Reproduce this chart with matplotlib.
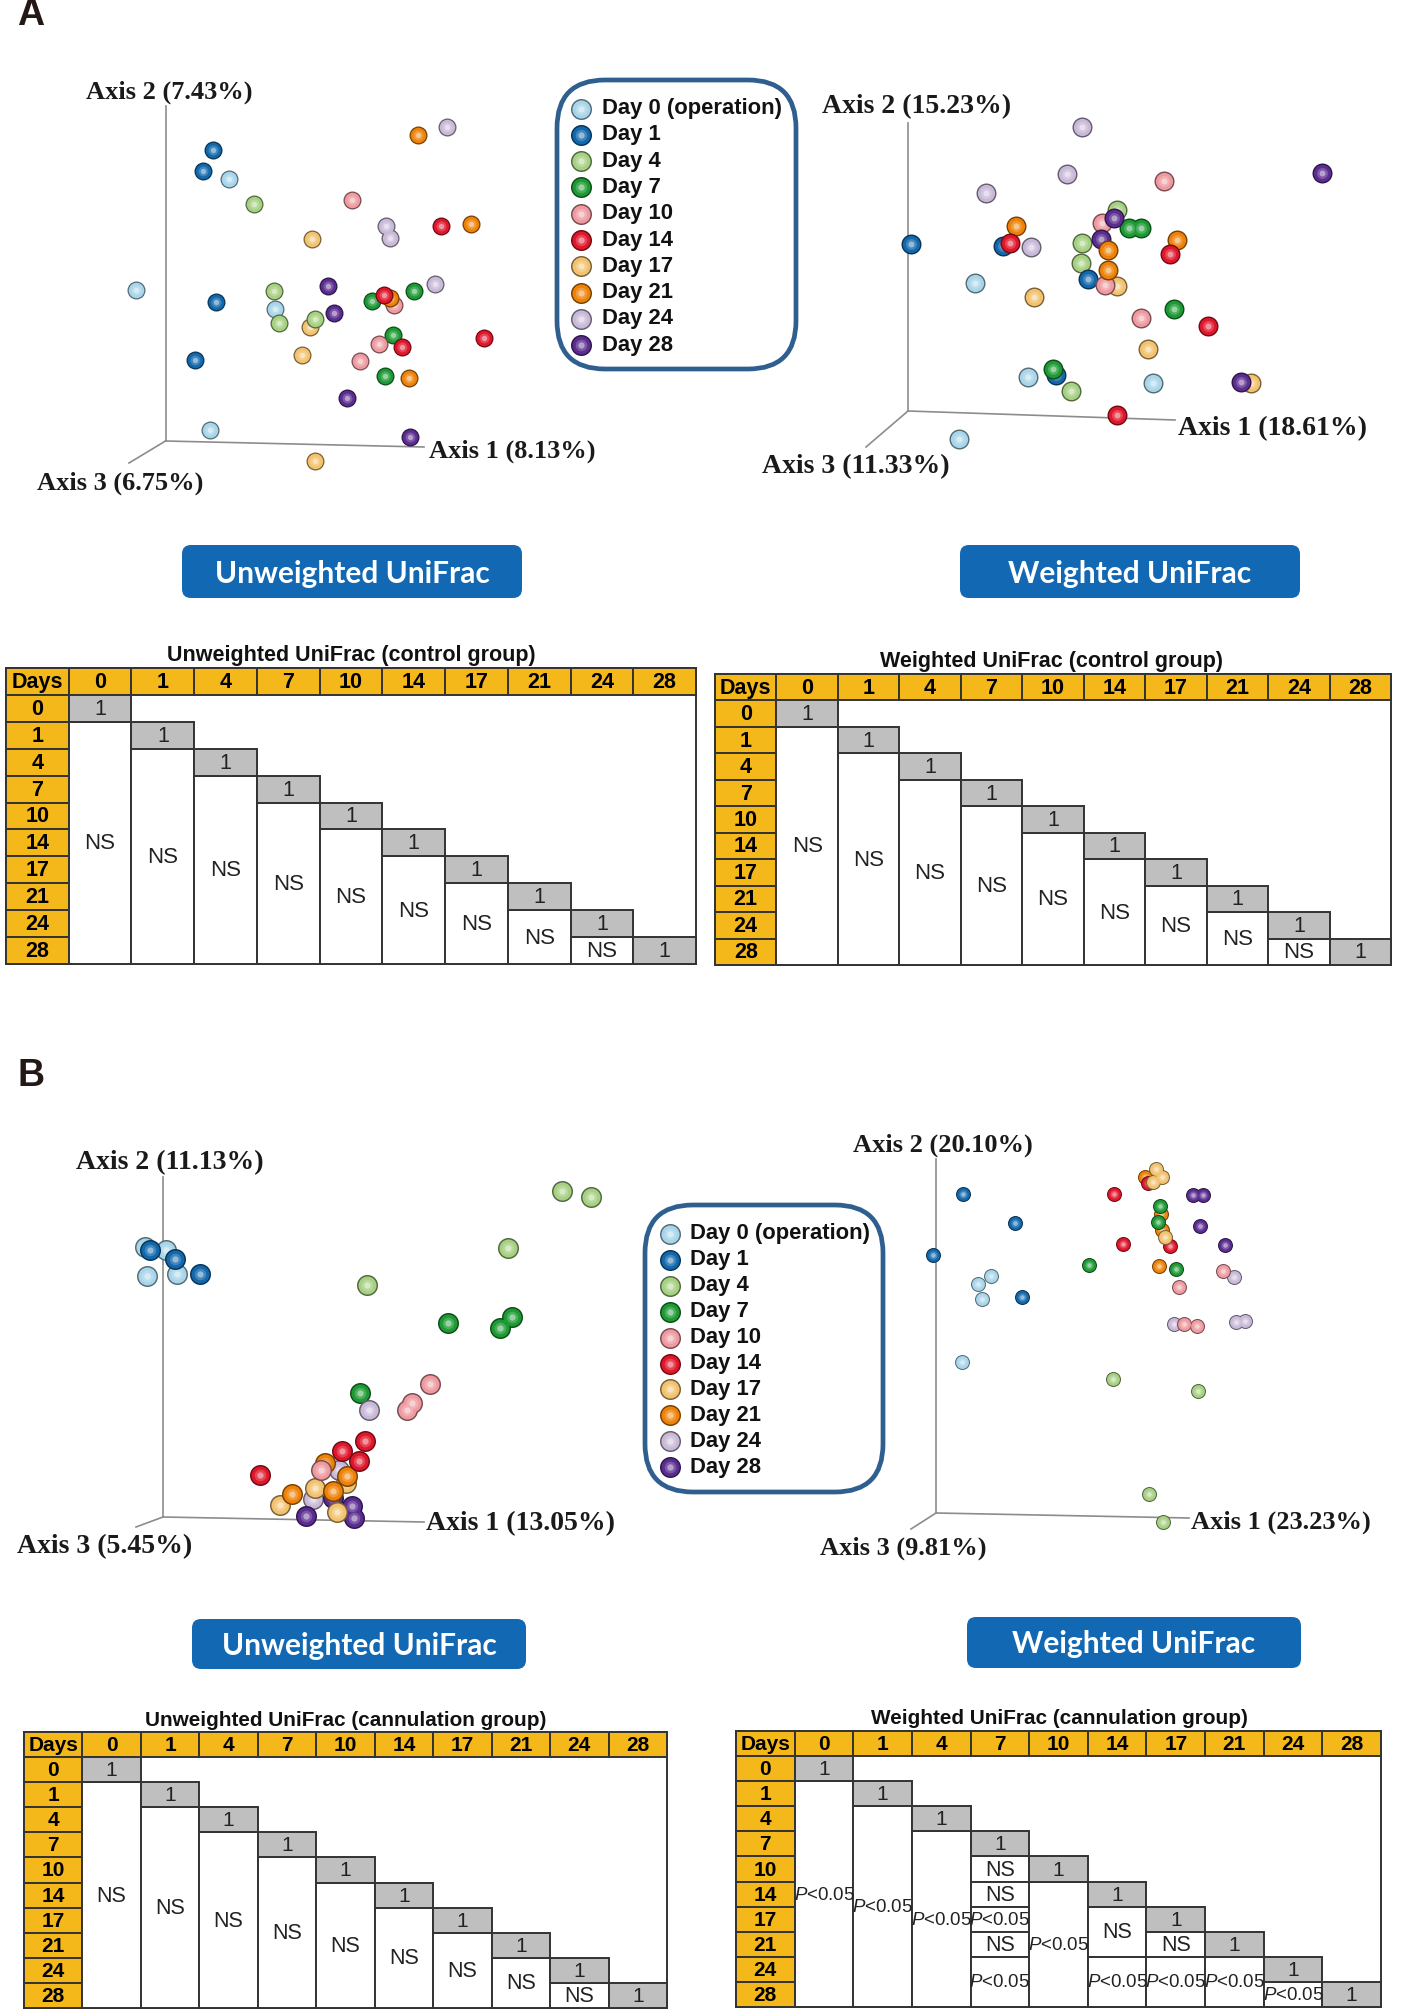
import numpy as np
import matplotlib
matplotlib.use('Agg')
from matplotlib import pyplot as plt
from matplotlib.colors import to_rgb
from matplotlib.patches import FancyBboxPatch, Rectangle

plt.rcParams['mathtext.fontset'] = 'custom'
plt.rcParams['mathtext.it'] = 'Liberation Sans:italic'
plt.rcParams['mathtext.rm'] = 'Liberation Sans'

DAYS = ['0', '1', '4', '7', '10', '14', '17', '21', '24', '28']
LEGEND_NAMES = ['Day 0 (operation)', 'Day 1', 'Day 4', 'Day 7', 'Day 10',
                'Day 14', 'Day 17', 'Day 21', 'Day 24', 'Day 28']
COLORS = ['#a9d5ea', '#1268ab', '#a6d082', '#1e9a35', '#ee9aa0',
          '#e0162b', '#f2c26e', '#ee8208', '#c9b9d8', '#5b2d90']

# point positions, one list per day (x, y in image pixels)
A_UNW = [
    [(136, 290), (229, 179), (275, 309), (210, 430)],
    [(213, 150), (203, 171), (216, 302), (195, 360)],
    [(254, 204), (274, 291), (279, 323), (315, 319)],
    [(372, 301), (414, 291), (393, 335), (385, 376)],
    [(352, 200), (394, 305), (379, 344), (360, 361)],
    [(441, 226), (384, 295), (402, 347), (484, 338)],
    [(312, 239), (310, 327), (302, 355), (315, 461)],
    [(418, 135), (471, 224), (390, 298), (409, 378)],
    [(447, 127), (386, 226), (390, 238), (435, 284)],
    [(328, 286), (334, 313), (347, 398), (410, 437)],
]
A_W = [
    [(975, 283), (1028, 377), (1153, 383), (959, 439)],
    [(911, 244), (1003, 246), (1088, 279), (1056, 375)],
    [(1117, 210), (1082, 243), (1081, 263), (1071, 391)],
    [(1129, 228), (1141, 228), (1174, 309), (1053, 369)],
    [(1164, 181), (1102, 223), (1105, 285), (1141, 318)],
    [(1010, 243), (1170, 254), (1208, 326), (1117, 415)],
    [(1117, 286), (1034, 297), (1148, 349), (1251, 383)],
    [(1016, 226), (1177, 240), (1108, 250), (1108, 270)],
    [(1082, 127), (1067, 174), (986, 193), (1031, 247)],
    [(1322, 173), (1114, 218), (1101, 239), (1241, 382)],
]
B_UNW = [
    [(145, 1247), (166, 1250), (147, 1276), (177, 1274)],
    [(150, 1250), (175, 1259), (200, 1274)],
    [(562, 1191), (591, 1197), (508, 1248), (367, 1285)],
    [(448, 1323), (512, 1317), (500, 1328), (360, 1393)],
    [(430, 1384), (412, 1403), (407, 1410), (321, 1470)],
    [(365, 1441), (342, 1451), (359, 1461), (260, 1475)],
    [(346, 1483), (315, 1488), (280, 1505), (337, 1512)],
    [(325, 1463), (347, 1476), (292, 1494), (333, 1491)],
    [(369, 1410), (339, 1470), (313, 1499)],
    [(352, 1506), (333, 1498), (306, 1516), (354, 1518)],
]
B_W = [
    [(991, 1276), (978, 1284), (982, 1299), (962, 1362)],
    [(963, 1194), (1015, 1223), (933, 1255), (1022, 1297)],
    [(1113, 1379), (1198, 1391), (1149, 1494), (1163, 1522)],
    [(1160, 1206), (1158, 1222), (1089, 1265), (1176, 1269)],
    [(1223, 1271), (1179, 1287), (1184, 1324), (1197, 1326)],
    [(1114, 1194), (1148, 1183), (1123, 1244), (1170, 1246)],
    [(1156, 1169), (1162, 1177), (1153, 1182), (1165, 1237)],
    [(1145, 1177), (1161, 1214), (1162, 1230), (1159, 1266)],
    [(1234, 1277), (1174, 1324), (1236, 1322), (1245, 1321)],
    [(1193, 1195), (1203, 1195), (1200, 1226), (1225, 1245)],
]

# which day is painted over which, back to front
ORDER_A_UNW = [0, 1, 6, 2, 3, 4, 7, 8, 9, 5]
ORDER_A_W = [0, 2, 1, 3, 8, 6, 4, 9, 7, 5]
ORDER_B_UNW = [0, 1, 2, 3, 8, 9, 6, 7, 4, 5]
ORDER_B_W = [0, 1, 2, 8, 7, 3, 4, 5, 6, 9]

AXIS_A_UNW = ['Axis 1 (8.13%)', 'Axis 2 (7.43%)', 'Axis 3 (6.75%)']
AXIS_A_W = ['Axis 1 (18.61%)', 'Axis 2 (15.23%)', 'Axis 3 (11.33%)']
AXIS_B_UNW = ['Axis 1 (13.05%)', 'Axis 2 (11.13%)', 'Axis 3 (5.45%)']
AXIS_B_W = ['Axis 1 (23.23%)', 'Axis 2 (20.10%)', 'Axis 3 (9.81%)']

# table columns below the diagonal: (rows spanned, text)
PV = r'$\mathit{P}$<0.05'
ALL_NS = [[(9 - j, 'NS')] for j in range(9)]
CANNULATION_W = [
    [(9, PV)],
    [(8, PV)],
    [(7, PV)],
    [(1, 'NS'), (1, 'NS'), (1, PV), (1, 'NS'), (2, PV)],
    [(5, PV)],
    [(2, 'NS'), (2, PV)],
    [(1, 'NS'), (2, PV)],
    [(2, PV)],
    [(1, PV)],
]

fig = plt.figure(figsize=(14.05, 20.11), dpi=100)
ax = fig.add_axes([0, 0, 1, 1])
ax.set_xlim(0, 1405)
ax.set_ylim(2011, 0)
ax.axis('off')


def blend(col, other, t):
    c = np.array(to_rgb(col))
    return tuple(c * (1 - t) + np.array(to_rgb(other)) * t)


# fake the shaded balls with stacked discs
def balls(xs, ys, col, d, z):
    layers = [(1.0, blend(col, 'black', 0.5)), (0.86, col),
              (0.55, blend(col, 'white', 0.2)), (0.3, blend(col, 'white', 0.55))]
    for k, (frac, c) in enumerate(layers):
        ax.scatter(xs, ys, s=(d * frac * 0.72) ** 2, color=c, linewidths=0, zorder=z + k * 0.1)


def nuage(groups, d, order):
    for rang, i in enumerate(order):
        pts = np.array(groups[i])
        balls(pts[:, 0], pts[:, 1], COLORS[i], d, 3 + rang)


def repere(origin, ends, labels, pos, size=19):
    for e in ends:
        ax.plot([origin[0], e[0]], [origin[1], e[1]], color='#8c8c8c', lw=1.2, zorder=2)
    for txt, p in zip(labels, pos):
        ax.text(p[0], p[1], txt, family='Liberation Serif', weight='bold', size=size,
                va='center', ha='left', color='#1a1a1a', zorder=20)


def legende(x0, y0, x1, y1, mx, tx, y_first, dy):
    ax.add_patch(FancyBboxPatch((x0, y0), x1 - x0, y1 - y0,
                                boxstyle='round,pad=0,rounding_size=48',
                                fc='white', ec='#2f5f8f', lw=3.4, zorder=1))
    for i, name in enumerate(LEGEND_NAMES):
        y = y_first + i * dy
        balls([mx], [y], COLORS[i], 21, 3)
        ax.text(tx, y, name, family='Liberation Sans', weight='bold', size=15.8,
                va='center', ha='left', color='#111111', zorder=20)


def bouton(x0, y0, x1, y1, txt):
    ax.add_patch(FancyBboxPatch((x0, y0), x1 - x0, y1 - y0,
                                boxstyle='round,pad=0,rounding_size=9',
                                fc='#1268b3', ec='none', zorder=1))
    ax.text((x0 + x1) / 2, (y0 + y1) / 2 + 2, txt, family='Lato', weight='bold', size=21.5,
            va='center', ha='center', color='white', zorder=2)


def tableau(x0, x1, y0, y1, title, ty, tx, colonnes, fs):
    w = (x1 - x0) / 11
    h = (y1 - y0) / 11
    line = dict(ec='#333333', lw=1.4)
    ax.add_patch(Rectangle((x0, y0), x1 - x0, y1 - y0, fc='white', zorder=1, **line))
    # first row and first column
    for k, lab in enumerate(['Days'] + DAYS):
        ax.add_patch(Rectangle((x0 + k * w, y0), w, h, fc='#f4b81a', zorder=2, **line))
        ax.text(x0 + (k + .5) * w, y0 + .5 * h + 1, lab, family='Liberation Sans', weight='bold',
                size=fs + 1, ha='center', va='center', zorder=5)
        if k > 0:
            ax.add_patch(Rectangle((x0, y0 + k * h), w, h, fc='#f4b81a', zorder=2, **line))
            ax.text(x0 + .5 * w, y0 + (k + .5) * h + 1, lab, family='Liberation Sans', weight='bold',
                    size=fs + 1, ha='center', va='center', zorder=5)
    for j in range(10):
        cx = x0 + (j + 1) * w
        ry = y0 + (j + 1) * h
        ax.add_patch(Rectangle((cx, ry), w, h, fc='#bfbfbf', zorder=3, **line))
        ax.text(cx + .5 * w, ry + .5 * h + 1, '1', family='Liberation Sans', size=fs + 1,
                color='#222222', ha='center', va='center', zorder=5)
        if j == 9:
            continue
        r = j + 1
        for n, lab in colonnes[j]:
            ax.add_patch(Rectangle((cx, y0 + (r + 1) * h), w, n * h, fc='white', zorder=2, **line))
            size = 13.4 if lab == PV else fs + 1.5
            ax.text(cx + .5 * w, y0 + (r + 1 + n / 2) * h + 1, lab, family='Liberation Sans', size=size,
                    color='#222222', ha='center', va='center', zorder=5)
            r += n
    ax.text(tx, ty, title, family='Liberation Sans', weight='bold', size=fs * 1.07,
            ha='center', va='center', color='#111111')


# panel letters
ax.text(31, 15, 'A', family='Liberation Sans', weight='bold', size=27, ha='center', va='center', color='#231815')
ax.text(31, 1076, 'B', family='Liberation Sans', weight='bold', size=27, ha='center', va='center', color='#231815')

# panel A
repere((165.5, 441), [(424, 447), (165.5, 106), (129, 463)], AXIS_A_UNW, [(429, 451), (86, 92), (37, 483)])
nuage(A_UNW, 18, ORDER_A_UNW)
repere((908, 411), [(1175, 420), (908, 123), (866, 447)], AXIS_A_W, [(1178, 429), (822, 107), (762, 467)], size=20)
nuage(A_W, 20, ORDER_A_W)
legende(557, 80, 796, 369, 581, 602, 108.5, 26.3)
bouton(182, 545, 522, 598, 'Unweighted UniFrac')
bouton(960, 545, 1300, 598, 'Weighted UniFrac')
tableau(6, 696, 668, 964, 'Unweighted UniFrac (control group)', 656, 351, ALL_NS, 14.5)
tableau(715, 1391, 674, 965, 'Weighted UniFrac (control group)', 662, 1052, ALL_NS, 14.5)

# panel B
repere((163, 1517), [(424, 1522), (163, 1177), (136, 1527)], AXIS_B_UNW, [(426, 1524), (76, 1163), (17, 1547)], size=20)
nuage(B_UNW, 21, ORDER_B_UNW)
repere((936, 1513), [(1189, 1518), (936, 1159), (911, 1529)], AXIS_B_W, [(1191, 1522), (853, 1145), (820, 1548)])
nuage(B_W, 15, ORDER_B_W)
legende(645, 1205, 883, 1492, 670, 690, 1234, 25.9)
bouton(192, 1619, 526, 1669, 'Unweighted UniFrac')
bouton(967, 1617, 1301, 1668, 'Weighted UniFrac')
tableau(24, 667, 1732, 2008, 'Unweighted UniFrac (cannulation group)', 1720, 346, ALL_NS, 14)
tableau(736, 1381, 1731, 2007, 'Weighted UniFrac (cannulation group)', 1719, 1059, CANNULATION_W, 14)

fig.savefig('out.png', dpi=100)
